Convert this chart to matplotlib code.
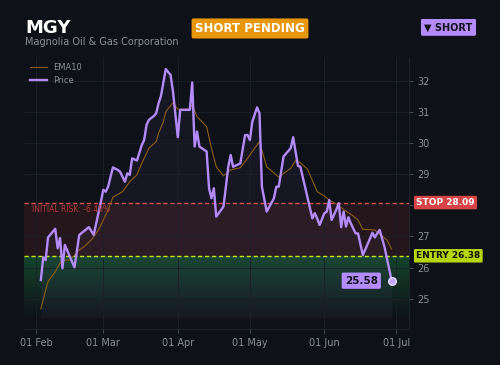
import matplotlib
matplotlib.use("Agg")
import matplotlib.pyplot as plt
import matplotlib.dates as mdates
import pandas as pd

# values
ticker = "MGY"
company = "Magnolia Oil & Gas Corporation"
status = "SHORT PENDING"
side = "▼ SHORT"
stop_level = 28.09
entry_level = 26.38
initial_risk = -6.48

price_dates = [
    "2025-02-03", "2025-02-04", "2025-02-05", "2025-02-06", "2025-02-09", "2025-02-10",
    "2025-02-11", "2025-02-12", "2025-02-13", "2025-02-17", "2025-02-19", "2025-02-23",
    "2025-02-25", "2025-02-28", "2025-03-01", "2025-03-02", "2025-03-03", "2025-03-05",
    "2025-03-07", "2025-03-08", "2025-03-10", "2025-03-11", "2025-03-12", "2025-03-13",
    "2025-03-15", "2025-03-17", "2025-03-18", "2025-03-19", "2025-03-20", "2025-03-22",
    "2025-03-23", "2025-03-24", "2025-03-25", "2025-03-27", "2025-03-29", "2025-03-30",
    "2025-04-01", "2025-04-02", "2025-04-06", "2025-04-07", "2025-04-08", "2025-04-09",
    "2025-04-10", "2025-04-13", "2025-04-14", "2025-04-15", "2025-04-16", "2025-04-17",
    "2025-04-20", "2025-04-22", "2025-04-23", "2025-04-24", "2025-04-27", "2025-04-29",
    "2025-04-30", "2025-05-01", "2025-05-02", "2025-05-04", "2025-05-05", "2025-05-06",
    "2025-05-08", "2025-05-11", "2025-05-12", "2025-05-13", "2025-05-15", "2025-05-18",
    "2025-05-19", "2025-05-21", "2025-05-22", "2025-05-27", "2025-05-28", "2025-05-29",
    "2025-05-30", "2025-06-01", "2025-06-02", "2025-06-03", "2025-06-04", "2025-06-06",
    "2025-06-07", "2025-06-08", "2025-06-09", "2025-06-10", "2025-06-11", "2025-06-12",
    "2025-06-14", "2025-06-15", "2025-06-17", "2025-06-21", "2025-06-22", "2025-06-23",
    "2025-06-24", "2025-06-26", "2025-06-29",
]
price_vals = [
    25.60, 26.33, 26.24, 26.97, 27.25, 26.62,
    26.95, 25.98, 26.73, 26.01, 27.05, 27.30,
    27.05, 28.12, 28.50, 28.44, 28.60, 29.22,
    29.14, 29.08, 28.76, 29.03, 28.98, 29.51,
    29.44, 29.94, 30.10, 30.59, 30.75, 30.87,
    30.96, 31.28, 31.52, 32.38, 32.19, 31.66,
    30.19, 31.07, 31.07, 31.95, 29.89, 30.37,
    29.89, 29.73, 28.55, 28.23, 28.55, 27.64,
    27.96, 29.24, 29.62, 29.24, 29.35, 30.26,
    30.26, 30.10, 30.69, 31.15, 30.96, 28.60,
    27.80, 28.23, 28.60, 28.60, 29.57, 29.84,
    30.19, 29.27, 29.24, 27.58, 27.75, 27.58,
    27.37, 27.75, 27.80, 28.17, 27.53, 27.87,
    28.07, 27.30, 27.80, 27.32, 27.62, 27.42,
    27.10, 27.10, 26.40, 27.12, 26.97, 27.10,
    27.21, 26.67, 25.58,
]

ema_dates = [
    "2025-02-03", "2025-02-05", "2025-02-06", "2025-02-09", "2025-02-11", "2025-02-12",
    "2025-02-15", "2025-02-19", "2025-02-21", "2025-02-24", "2025-02-27", "2025-03-02",
    "2025-03-03", "2025-03-05", "2025-03-09", "2025-03-12", "2025-03-15", "2025-03-17",
    "2025-03-20", "2025-03-23", "2025-03-24", "2025-03-26", "2025-03-27", "2025-03-30",
    "2025-04-01", "2025-04-06", "2025-04-07", "2025-04-09", "2025-04-11", "2025-04-13",
    "2025-04-15", "2025-04-17", "2025-04-20", "2025-04-23", "2025-04-27", "2025-04-30",
    "2025-05-02", "2025-05-05", "2025-05-08", "2025-05-13", "2025-05-16", "2025-05-18",
    "2025-05-20", "2025-05-22", "2025-05-25", "2025-05-29", "2025-06-01", "2025-06-03",
    "2025-06-06", "2025-06-09", "2025-06-13", "2025-06-15", "2025-06-17", "2025-06-22",
    "2025-06-24", "2025-06-27", "2025-06-29",
]
ema_vals = [
    24.67, 25.28, 25.55, 25.87, 26.14, 26.24,
    26.24, 26.57, 26.67, 26.89, 27.21, 27.69,
    27.85, 28.26, 28.44, 28.76, 28.98, 29.35,
    29.84, 30.05, 30.32, 30.69, 31.01, 31.30,
    31.09, 31.09, 31.23, 30.85, 30.69, 30.53,
    29.84, 29.24, 28.95, 29.14, 29.21, 29.51,
    29.73, 30.05, 29.24, 28.91, 29.08, 29.19,
    29.44, 29.37, 29.16, 28.44, 28.30, 28.17,
    28.04, 27.87, 27.66, 27.53, 27.23, 27.21,
    27.08, 26.89, 26.59,
]

BG = "#0e1117"
PURPLE = "#b48cff"
GRAY = "#8a8f98"

pd_price = pd.to_datetime(price_dates)
pd_ema = pd.to_datetime(ema_dates)

fig = plt.figure(figsize=(5, 3.65), dpi=100, facecolor=BG)
ax = fig.add_axes([0.048, 0.098, 0.769, 0.746])
ax.set_facecolor(BG)

ax.set_xlim(pd.Timestamp("2025-01-27"), pd.Timestamp("2025-07-06"))
ax.set_ylim(24.02, 32.77)
fill_floor = 24.39

# zones
ax.axhspan(entry_level, stop_level, color="#ef4444", alpha=0.10, lw=0, zorder=0)
n_bands = 24
step = (entry_level - fill_floor) / n_bands
for i in range(n_bands):
    top = entry_level - i * step
    ax.axhspan(top - step, top, color="#22c55e", alpha=0.28 * (1 - i / n_bands),
               lw=0, zorder=0)

ax.fill_between(pd_price, price_vals, fill_floor, color=PURPLE, alpha=0.05, lw=0, zorder=1)

ax.axhline(stop_level, color="#e05252", ls="--", lw=1.0, dashes=(3, 2), zorder=3)
ax.axhline(entry_level, color="#c8e60a", ls="--", lw=1.0, dashes=(3, 2), zorder=3)

ax.plot(pd_ema, ema_vals, color="#8c5e14", lw=0.8, label="EMA10", zorder=4)
ax.plot(pd_price, price_vals, color=PURPLE, lw=1.7, label="Price", zorder=5)
ax.scatter(pd_price[-1:], price_vals[-1:], s=30, color="#c4a5ff", edgecolor="#e8e0ff",
           linewidth=1, zorder=6)

# axes styling
ax.yaxis.tick_right()
ax.xaxis.set_major_locator(mdates.MonthLocator())
ax.xaxis.set_major_formatter(mdates.DateFormatter("%d %b"))
ax.set_yticks([25, 26, 27, 28, 29, 30, 31, 32])
ax.tick_params(colors=GRAY, labelsize=7, length=3, width=0.6)
ax.tick_params(axis="x", colors="#555a63", labelcolor=GRAY)
ax.tick_params(axis="y", colors="#555a63", labelcolor=GRAY)
ax.grid(True, color="#1c2028", lw=0.6)
for s in ("top", "left"):
    ax.spines[s].set_visible(False)
for s in ("bottom", "right"):
    ax.spines[s].set_color("#1f232b")

ax.text(0.02, stop_level - 0.08, f"INITIAL RISK: {initial_risk:.2f}%", color="#b33a3a",
        fontsize=5.5, transform=ax.get_yaxis_transform(), va="top", zorder=7)

ytr = ax.get_yaxis_transform()
box = dict(boxstyle="round,pad=0.25,rounding_size=0.15", ec="none")
ax.text(1.02, stop_level, f"STOP {stop_level:.2f}", transform=ytr, color="white",
        fontsize=6.5, fontweight="bold", va="center", ha="left", zorder=8,
        bbox=dict(box, fc="#d64545"))
ax.text(1.02, entry_level, f"ENTRY {entry_level:.2f}", transform=ytr, color="#111111",
        fontsize=6.5, fontweight="bold", va="center", ha="left", zorder=8,
        bbox=dict(box, fc="#b5d60a"))
ax.annotate(f"{price_vals[-1]:.2f}", (pd_price[-1], price_vals[-1]), xytext=(-10, 0),
            textcoords="offset points", ha="right", va="center", color="#111111",
            fontsize=7.5, fontweight="bold", zorder=8,
            bbox=dict(boxstyle="round,pad=0.3,rounding_size=0.15", fc=PURPLE, ec="none"))

leg = ax.legend(loc="upper left", frameon=False, fontsize=6, labelcolor=GRAY,
                handlelength=2, borderaxespad=0.3)

# header
fig.text(0.05, 0.922, ticker, color="white", fontsize=13, fontweight="bold",
         va="center", ha="left")
fig.text(0.05, 0.884, company, color=GRAY, fontsize=7, va="center", ha="left")
fig.text(0.5, 0.922, status, color="white", fontsize=8.5, fontweight="bold",
         va="center", ha="center",
         bbox=dict(boxstyle="round,pad=0.3,rounding_size=0.15", fc="#e8960c", ec="none"))
fig.text(0.897, 0.925, side, color="#111111", fontsize=7, fontweight="bold",
         va="center", ha="center",
         bbox=dict(boxstyle="round,pad=0.35,rounding_size=0.15", fc=PURPLE, ec="none"))

fig.savefig("out.png", dpi=100, facecolor=BG)
